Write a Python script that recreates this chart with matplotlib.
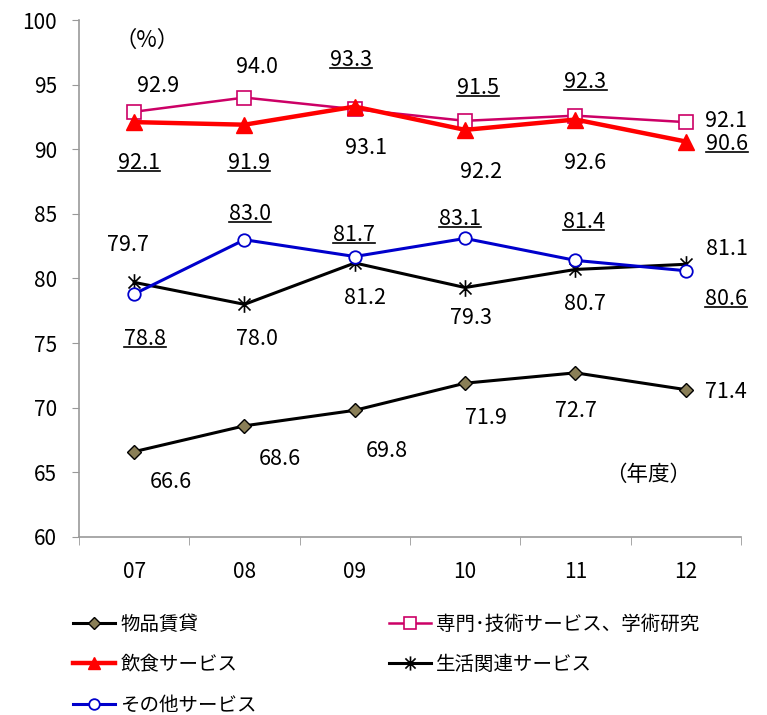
import matplotlib.pyplot as plt
from matplotlib.lines import Line2D
from matplotlib.path import Path

plt.rcParams['font.family'] = ['Noto Sans CJK JP', 'DejaVu Sans']

years = ['07', '08', '09', '10', '11', '12']
buppin = [66.6, 68.6, 69.8, 71.9, 72.7, 71.4]
senmon = [92.9, 94.0, 93.1, 92.2, 92.6, 92.1]
inshoku = [92.1, 91.9, 93.3, 91.5, 92.3, 90.6]
seikatsu = [79.7, 78.0, 81.2, 79.3, 80.7, 81.1]
sonota = [78.8, 83.0, 81.7, 83.1, 81.4, 80.6]

# label offsets in pixels (dx, dy) from each point
off_buppin = [(37, -30), (35, -33), (32, -41), (21, -35), (0, -38), (40, -2)]
off_senmon = [(24, 26), (12, 31), (11, -39), (16, -51), (10, -47), (40, 1)]
off_inshoku = [(5, -41), (5, -38), (-4, 47), (13, 42), (10, 38), (41, -2)]
off_seikatsu = [(-6, 37), (12, -35), (10, -35), (6, -30), (9, -35), (41, 15)]
off_sonota = [(11, -45), (6, 26), (-1, 22), (-5, 19), (8, 38), (40, -28)]

# excel-like asterisk: vertical bar plus an X
star = Path([(0, -1), (0, 1), (-0.72, -0.72), (0.72, 0.72), (-0.72, 0.72), (0.72, -0.72)],
            [Path.MOVETO, Path.LINETO, Path.MOVETO, Path.LINETO, Path.MOVETO, Path.LINETO])

fig = plt.figure(figsize=(7.67, 7.15), dpi=100)
ax = fig.add_axes([0.103, 0.249, 0.863, 0.723])
x = list(range(len(years)))

l1, = ax.plot(x, buppin, color='black', lw=2.2, marker='D', ms=7,
              mfc='#8A7F57', mec='black', mew=1, label='物品賃貸')
l2, = ax.plot(x, senmon, color='#CC0066', lw=1.8, marker='s', ms=10,
              mfc='white', mec='#CC0066', mew=1.2, label='専門･技術サービス、学術研究')
l3, = ax.plot(x, inshoku, color='#FF0000', lw=3.2, marker='^', ms=11,
              mfc='#FF0000', mec='#FF0000', label='飲食サービス')
l4, = ax.plot(x, seikatsu, color='black', lw=2.2, marker=star, ms=12,
              mfc='none', mec='black', mew=1.2, label='生活関連サービス')
l5, = ax.plot(x, sonota, color='#0000CC', lw=2.2, marker='o', ms=9,
              mfc='white', mec='#0000CC', mew=1.3, label='その他サービス')

underlined = []


def put_labels(vals, offs, under=False):
    for i, (v, o) in enumerate(zip(vals, offs)):
        t = ax.annotate(f'{v:.1f}', (i, v), xytext=o, textcoords='offset pixels',
                        ha='center', va='center', fontsize=15.5)
        if under:
            underlined.append(t)


put_labels(buppin, off_buppin)
put_labels(senmon, off_senmon)
put_labels(inshoku, off_inshoku, under=True)
put_labels(seikatsu, off_seikatsu)
put_labels(sonota, off_sonota, under=True)

ax.set_xlim(-0.5, 5.5)
ax.set_ylim(60, 100)
ax.set_yticks(range(60, 101, 5))
ax.set_xticks(x)
ax.set_xticklabels(years)
ax.set_xticks([i - 0.5 for i in range(7)], minor=True)
ax.tick_params(axis='x', which='major', length=0, pad=17, labelsize=15)
ax.tick_params(axis='x', which='minor', length=6, color='#999999', direction='out')
ax.tick_params(axis='y', length=5, color='#999999', pad=11, labelsize=15)
for s in ['top', 'right']:
    ax.spines[s].set_visible(False)
for s in ['left', 'bottom']:
    ax.spines[s].set_color('#999999')
    ax.spines[s].set_linewidth(1.2)

ax.text(0.103, 0.961, '（%）', transform=ax.transAxes, fontsize=16, ha='center', va='center')
ax.text(0.86, 0.12, '（年度）', transform=ax.transAxes, fontsize=15.5, ha='center', va='center')

fig.legend(handles=[l1, l3, l5, l2, l4], ncol=2, loc='upper left',
           bbox_to_anchor=(0.073, 0.1664), frameon=False, fontsize=14,
           handlelength=2.16, handletextpad=0.25, columnspacing=6.8,
           labelspacing=1.0, markerscale=0.85)

# underline the labels of 飲食 and その他
fig.canvas.draw()
r = fig.canvas.get_renderer()
W, H = fig.bbox.width, fig.bbox.height
for t in underlined:
    bb = t.get_window_extent(r)
    yl = bb.y0 + 3
    fig.add_artist(Line2D([bb.x0 / W, bb.x1 / W], [yl / H, yl / H],
                          color='black', lw=1.2, transform=fig.transFigure))

fig.savefig('out.png', dpi=100)
